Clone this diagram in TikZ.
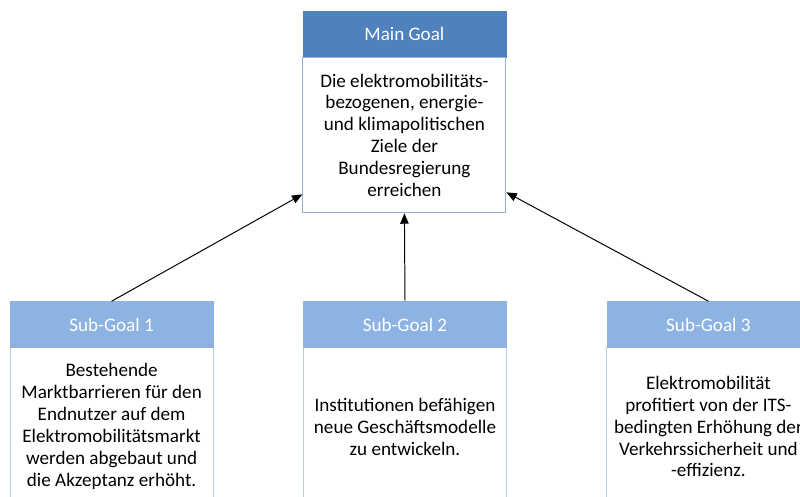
\documentclass[tikz,border=0pt]{standalone}
\usepackage{fontspec}
\setmainfont{Carlito}
\usetikzlibrary{arrows.meta,positioning}
\definecolor{mainblue}{RGB}{79,129,189}
\definecolor{subblue}{RGB}{141,179,226}
\definecolor{mainedge}{RGB}{149,179,215}
\definecolor{subedge}{RGB}{184,204,228}
\tikzset{
  >={Triangle[length=2.6mm,width=2.1mm]},
  head/.style={fill=#1,draw=#1,text=white,minimum width=5.075cm,minimum height=1.15cm,
    inner sep=0pt,font=\fontsize{13.6}{15.6}\selectfont},
  head/.default=mainblue,
  body/.style={draw=#1,fill=white,minimum width=5.075cm,inner sep=0pt,align=center,
    font=\fontsize{13.6}{15.6}\selectfont,line width=0.75pt},
  body/.default=mainedge,
  link/.style={->,line width=0.7pt,draw=black},
}

\begin{document}
\begin{tikzpicture}
    \useasboundingbox (0,0) rectangle (20,-12.425);
    \clip (0,0) rectangle (20,-12.425);
    % main goal
    \node[head] (mainhead) at (10.11,-0.85) {Main Goal};
    \node[body,minimum height=3.875cm,below=0pt of mainhead] (mainbody)
      {Die elektromobilitäts-\\bezogenen, energie-\\und klimapolitischen\\Ziele der\\Bundesregierung\\erreichen};
    % sub goals
    \foreach \t/\x [count=\i] in {
      Bestehende\\Marktbarrieren für den\\Endnutzer auf dem\\Elektromobilitätsmarkt\\werden abgebaut und\\die Akzeptanz erhöht./2.79,
      Institutionen befähigen\\neue Geschäftsmodelle\\zu entwickeln./10.125,
      Elektromobilität\\profitiert von der ITS-\\bedingten Erhöhung der\\Verkehrssicherheit und\\-effizienz./17.71}
    {
      \node[body=subedge,minimum height=3.95cm,anchor=north] (sub\i) at (\x,-8.675) {\t};
      \node[head=subblue] (subhead\i) at (\x,-8.1125) {Sub-Goal \i};
    }
    \coordinate (tipl) at ([yshift=0.475cm]mainbody.south west);
    \coordinate (tipr) at ([yshift=0.525cm]mainbody.south east);
    \draw[link] (subhead1.north) -- (tipl);
    \draw[link] (subhead2.north) -- (mainbody.south);
    \draw[link] (subhead3.north) -- (tipr);
  \end{tikzpicture}
\end{document}
